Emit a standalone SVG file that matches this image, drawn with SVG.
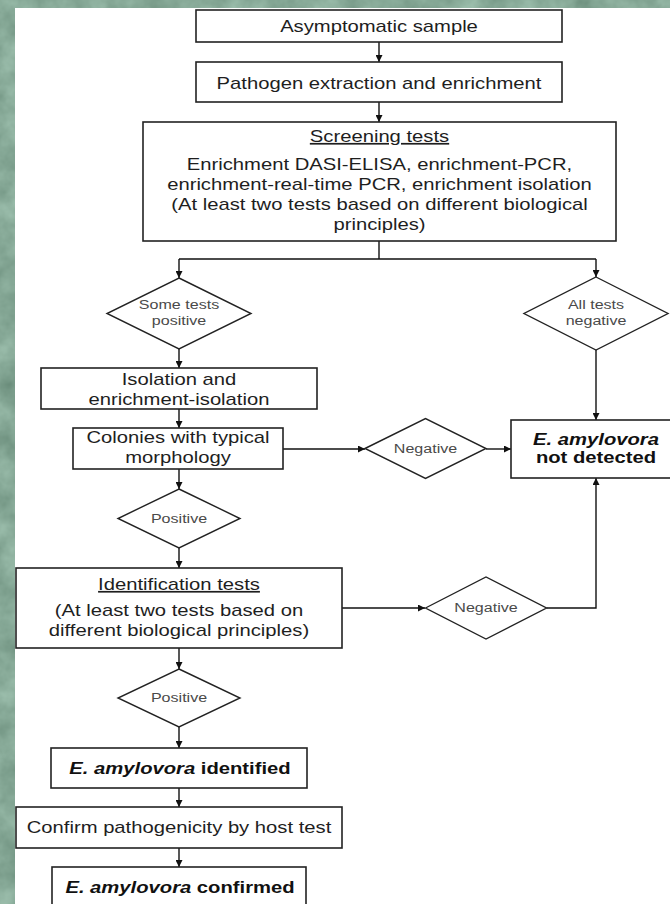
<svg xmlns="http://www.w3.org/2000/svg" width="670" height="904" viewBox="0 0 670 904">
<defs>
<filter id="tex" x="0" y="0" width="100%" height="100%" filterUnits="objectBoundingBox" color-interpolation-filters="sRGB">
<feTurbulence type="fractalNoise" baseFrequency="0.035" numOctaves="4" seed="7"/>
<feColorMatrix type="matrix" values="0.25 0 0 0 0.4  0.25 0 0 0 0.535  0.25 0 0 0 0.465  0 0 0 0 1"/>
</filter>
<marker id="ah" viewBox="0 0 10 10" refX="10" refY="5" markerWidth="7" markerHeight="7" markerUnits="userSpaceOnUse" orient="auto">
<path d="M0,0 L10,5 L0,10 z" fill="#111"/>
</marker>
<style>
.box{fill:#fff;stroke:#222;stroke-width:1.6}
.dia{fill:#fff;stroke:#222;stroke-width:1.4}
.t{font-family:"Liberation Sans",Arial,sans-serif;font-size:17px;fill:#1e1e1e;text-anchor:middle}
.d{font-family:"Liberation Sans",Arial,sans-serif;font-size:13.5px;fill:#4a4a4a;text-anchor:middle}
.b{font-weight:bold;fill:#111}
.i{font-style:italic}
.u{text-decoration:underline}
.c{fill:none;stroke:#111;stroke-width:1.4;marker-end:url(#ah)}
.cn{fill:none;stroke:#111;stroke-width:1.4}
</style>
</defs>
<rect x="0" y="0" width="670" height="904" fill="#86a897" filter="url(#tex)"/>
<rect x="15" y="8" width="660" height="900" fill="#fff"/>

<g id="connectors">
<path class="c" d="M379,42 V62"/>
<path class="c" d="M379,102 V122"/>
<path class="cn" d="M379,241 V259 M179,259 H596"/>
<path class="c" d="M179,259 V278"/>
<path class="c" d="M596,259 V277"/>
<path class="c" d="M179,349 V368"/>
<path class="c" d="M179,409 V428"/>
<path class="c" d="M283,449 H365"/>
<path class="c" d="M486,449 H511"/>
<path class="c" d="M596,350 V420"/>
<path class="c" d="M179,469 V489"/>
<path class="c" d="M179,548 V568"/>
<path class="c" d="M342,608 H425"/>
<path class="c" d="M546.5,608 H596 V478"/>
<path class="c" d="M179,648 V669"/>
<path class="c" d="M179,727 V748"/>
<path class="c" d="M179,788 V807"/>
<path class="c" d="M179,848 V867"/>
</g>

<g id="n1">
<rect class="box" x="196" y="10" width="366" height="32"/>
<text class="t" transform="matrix(1.19 0 0 1 379 32)">Asymptomatic sample</text>
</g>
<g id="n2">
<rect class="box" x="196" y="62" width="366" height="40"/>
<text class="t" transform="matrix(1.19 0 0 1 379 89)">Pathogen extraction and enrichment</text>
</g>
<g id="n3">
<rect class="box" x="143" y="122" width="473" height="119"/>
<text class="t u" transform="matrix(1.19 0 0 1 379.5 142)">Screening tests</text>
<text class="t" transform="matrix(1.19 0 0 1 379.5 170)">Enrichment DASI-ELISA, enrichment-PCR,</text>
<text class="t" transform="matrix(1.19 0 0 1 379.5 190)">enrichment-real-time PCR, enrichment isolation</text>
<text class="t" transform="matrix(1.19 0 0 1 379.5 210)">(At least two tests based on different biological</text>
<text class="t" transform="matrix(1.19 0 0 1 379.5 230)">principles)</text>
</g>
<g id="n4">
<polygon class="dia" points="179,278 251,313.5 179,349 107,313.5"/>
<text class="d" transform="matrix(1.19 0 0 1 179 309)">Some tests</text>
<text class="d" transform="matrix(1.19 0 0 1 179 325)">positive</text>
</g>
<g id="n5">
<polygon class="dia" points="596,277 668,313.5 596,350 524,313.5"/>
<text class="d" transform="matrix(1.19 0 0 1 596 309)">All tests</text>
<text class="d" transform="matrix(1.19 0 0 1 596 325)">negative</text>
</g>
<g id="n6">
<rect class="box" x="41" y="368" width="276" height="41"/>
<text class="t" transform="matrix(1.19 0 0 1 179 385)">Isolation and</text>
<text class="t" transform="matrix(1.19 0 0 1 179 405)">enrichment-isolation</text>
</g>
<g id="n7">
<rect class="box" x="73" y="428" width="210" height="41"/>
<text class="t" transform="matrix(1.19 0 0 1 178 443)">Colonies with typical</text>
<text class="t" transform="matrix(1.19 0 0 1 178 463)">morphology</text>
</g>
<g id="n8">
<polygon class="dia" points="365,448.5 425.5,418.5 486,448.5 425.5,478.5"/>
<text class="d" transform="matrix(1.19 0 0 1 425.5 453)">Negative</text>
</g>
<g id="n9">
<rect class="box" x="511" y="420" width="175" height="58"/>
<text class="t b i" transform="matrix(1.19 0 0 1 596 445)">E. amylovora</text>
<text class="t b" transform="matrix(1.19 0 0 1 596 463)">not detected</text>
</g>
<g id="n10">
<polygon class="dia" points="179,489 240,518.5 179,548 118,518.5"/>
<text class="d" transform="matrix(1.19 0 0 1 179 523)">Positive</text>
</g>
<g id="n11">
<rect class="box" x="16" y="568" width="326" height="80"/>
<text class="t u" transform="matrix(1.19 0 0 1 179 590)">Identification tests</text>
<text class="t" transform="matrix(1.19 0 0 1 179 616)">(At least two tests based on</text>
<text class="t" transform="matrix(1.19 0 0 1 179 636)">different biological principles)</text>
</g>
<g id="n12">
<polygon class="dia" points="425.5,608 486,577 546.5,608 486,639"/>
<text class="d" transform="matrix(1.19 0 0 1 486 612)">Negative</text>
</g>
<g id="n13">
<polygon class="dia" points="179,669 240,698 179,727 118,698"/>
<text class="d" transform="matrix(1.19 0 0 1 179 702)">Positive</text>
</g>
<g id="n14">
<rect class="box" x="51" y="748" width="256" height="40"/>
<text class="t b" transform="matrix(1.19 0 0 1 180 774)"><tspan class="i">E. amylovora</tspan> identified</text>
</g>
<g id="n15">
<rect class="box" x="16" y="807" width="326" height="41"/>
<text class="t" transform="matrix(1.19 0 0 1 179 833)">Confirm pathogenicity by host test</text>
</g>
<g id="n16">
<rect class="box" x="52" y="867" width="254" height="45"/>
<text class="t b" transform="matrix(1.19 0 0 1 180 893)"><tspan class="i">E. amylovora</tspan> confirmed</text>
</g>
</svg>
